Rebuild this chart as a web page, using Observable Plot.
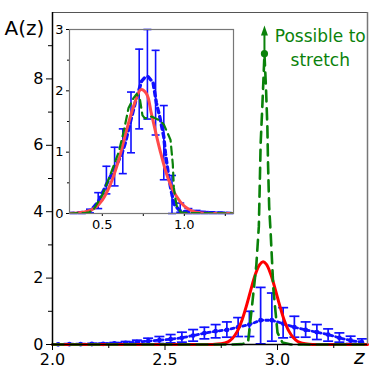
<!DOCTYPE html>
<html><head><meta charset="utf-8">
<script src="https://cdn.jsdelivr.net/npm/d3@7"></script>
<script src="https://cdn.jsdelivr.net/npm/@observablehq/plot@0.6"></script>
<style>
html,body{margin:0;padding:0;background:#fff;}
#chart{position:relative;width:374px;height:374px;}
#inset{position:absolute;left:39px;top:24px;}
</style></head><body>
<div id="chart"><div id="main"></div><div id="inset"></div></div>
<script>
// ---------- main panel data ----------
const mainBinX  = [2.025,2.075,2.125,2.175,2.225,2.275,2.325,2.375,2.425,2.475,2.525,2.575,2.625,2.675,2.725,2.775,2.825,2.875,2.925,2.975,3.025,3.075,3.125,3.175,3.225,3.275,3.325,3.375];
const mainBinY  = [0.005,0.01,0.01,0.015,0.02,0.03,0.05,0.07,0.10,0.13,0.16,0.20,0.27,0.34,0.40,0.44,0.52,0.60,0.73,0.73,0.63,0.52,0.44,0.37,0.30,0.20,0.12,0.07];
const mainBinLo = [0,0,0,0,0,0,0.01,0.01,0.02,0.03,0.05,0.07,0.10,0.17,0.20,0.22,0.24,0.24,0.02,0.10,0.20,0.22,0.22,0.15,0.10,0.07,0.03,0.0];
const mainBinHi = [0.01,0.02,0.02,0.03,0.04,0.06,0.09,0.13,0.19,0.24,0.30,0.37,0.45,0.52,0.60,0.68,0.81,1.00,1.72,1.55,1.11,0.85,0.68,0.60,0.47,0.35,0.25,0.17];

const mainRedX = [2.0,2.6,2.70,2.75,2.78,2.80,2.82,2.84,2.86,2.88,2.90,2.92,2.936,2.95,2.97,2.99,3.01,3.03,3.05,3.07,3.09,3.11,3.14,3.2,3.4];
const mainRedY = [0,0,0.00,0.02,0.08,0.19,0.38,0.69,1.12,1.61,2.08,2.40,2.49,2.42,2.12,1.66,1.17,0.73,0.41,0.21,0.09,0.04,0.01,0,0];

const mainGreenX = [2.0,2.5,2.80,2.84,2.869,2.888,2.906,2.917,2.921,2.925,2.932,2.938,2.942,2.949,2.955,2.958,2.963,2.970,2.982,3.000,3.022,3.06,3.4];
const mainGreenY = [0,0,0,0.01,0.06,1.24,2.40,3.55,4.76,6.03,7.09,8.06,8.76,7.70,6.55,5.42,4.15,3.30,1.64,0.36,0.06,0,0];

const stretchX = [2.942];
const stretchDotY = [8.76];
const stretchArrowY = [9.46];
const noteText = ["Possible to\nstretch"];
const noteX = [3.19];
const noteY = [8.97];

const mainXDomain = [2.0, 3.4];
const mainYDomain = [0, 10];
const mainXTicks = [2.0, 2.5, 3.0];
const mainXMinor = [2.25, 2.75, 3.25];
const mainYTicks = [0, 2, 4, 6, 8];
const mainYMinor = [1, 3, 5, 7, 9];

// ---------- inset data ----------
const insetBinX  = [0.325,0.375,0.425,0.475,0.525,0.575,0.625,0.675,0.725,0.775,0.825,0.875,0.925,0.975,1.025,1.075,1.125,1.175,1.225,1.275];
const insetBinLo = [0,0,0.01,0.08,0.32,0.45,0.65,0.99,1.38,1.54,1.28,0.55,0.0,0.02,0.0,0.0,0,0,0,0];
const insetBinHi = [0.01,0.02,0.07,0.34,0.77,1.08,1.38,1.98,2.68,3.00,2.66,1.76,0.62,0.17,0.08,0.05,0.03,0.02,0.02,0.01];

const insetDotX = [0.30,0.35,0.40,0.43,0.475,0.53,0.56,0.59,0.62,0.64,0.67,0.69,0.705,0.74,0.76,0.78,0.81,0.83,0.85,0.875,0.885,0.905,0.916,0.936,0.97,1.0,1.1,1.2,1.3];
const insetDotY = [0.0,0.01,0.02,0.05,0.19,0.50,0.66,0.81,0.98,1.15,1.48,1.69,1.85,2.16,2.22,2.23,2.13,1.80,1.58,1.25,0.98,0.60,0.43,0.16,0.05,0.03,0.02,0.01,0.0];

const insetRedX = [0.30,0.35,0.40,0.45,0.50,0.55,0.60,0.65,0.70,0.735,0.77,0.80,0.85,0.90,0.95,1.00,1.05,1.10,1.15,1.30];
const insetRedY = [0.00,0.01,0.03,0.08,0.22,0.48,0.87,1.38,1.82,2.02,1.95,1.62,1.05,0.58,0.29,0.12,0.04,0.01,0.00,0.00];

const insetGreenX = [0.30,0.40,0.42,0.45,0.48,0.50,0.55,0.60,0.63,0.66,0.69,0.71,0.73,0.745,0.76,0.80,0.85,0.875,0.90,0.916,0.93,0.936,0.945,0.956,0.98,1.0,1.3];
const insetGreenY = [0,0.01,0.02,0.08,0.21,0.30,0.64,1.00,1.33,1.72,1.88,1.95,1.85,1.60,1.55,1.58,1.52,1.45,1.30,1.20,0.80,0.43,0.25,0.10,0.02,0.01,0];

const insetXDomain = [0.3, 1.3];
const insetYDomain = [0, 3];
const insetXTicks = [0.5, 1.0];
const insetXMinor = [0.75, 1.25];
const insetYTicks = [0, 1, 2, 3];
const insetYMinor = [0.5, 1.5, 2.5];

// ---------- styling ----------
const BLUE = "#1010ff", RED = "#ff0000", RED_INSET = "#ff4a4a", GREEN = "#0a820a";
const FONT = "DejaVu Sans, sans-serif";

const capSymbol = {draw(ctx, size) { const r = Math.sqrt(size / Math.PI); ctx.moveTo(-r, 0); ctx.lineTo(r, 0); }};
const headSymbol = {draw(ctx, size) { const r = Math.sqrt(size / Math.PI); ctx.moveTo(0, -r); ctx.lineTo(0.7 * r, r); ctx.lineTo(-0.7 * r, r); ctx.closePath(); }};

const zip = (xs, ys) => xs.map((x, i) => ({x, y: ys[i]}));
const mainBins = mainBinX.map((x, i) => ({x, y: mainBinY[i], lo: mainBinLo[i], hi: mainBinHi[i]}));
const stretch = stretchX.map((x, i) => ({x, y1: stretchDotY[i], y2: stretchArrowY[i]}));
const note = noteText.map((t, i) => ({t, x: noteX[i], y: noteY[i]}));

const main = Plot.plot({
  width: 374, height: 374,
  marginLeft: 52, marginRight: 7, marginTop: 12, marginBottom: 30,
  style: {fontFamily: FONT, background: "white", overflow: "visible"},
  x: {domain: mainXDomain},
  y: {domain: mainYDomain},
  marks: [
    Plot.line(mainBins, {x: "x", y: "y", stroke: BLUE, strokeWidth: 2.8, strokeDasharray: "3,3"}),
    Plot.ruleX(mainBins, {x: "x", y1: "lo", y2: "hi", stroke: BLUE, strokeWidth: 1.7}),
    Plot.dot(mainBins, {x: "x", y: "lo", symbol: capSymbol, r: 5, stroke: BLUE, strokeWidth: 1.7, fill: "none"}),
    Plot.dot(mainBins, {x: "x", y: "hi", symbol: capSymbol, r: 5, stroke: BLUE, strokeWidth: 1.7, fill: "none"}),
    Plot.dot(mainBins, {x: "x", y: "y", r: 2.4, fill: BLUE, stroke: "none"}),
    Plot.line(zip(mainRedX, mainRedY), {x: "x", y: "y", stroke: RED, strokeWidth: 3, curve: "catmull-rom"}),
    Plot.line(zip(mainGreenX, mainGreenY), {x: "x", y: "y", stroke: GREEN, strokeWidth: 2.6, strokeDasharray: "11,7"}),
    Plot.ruleX(stretch, {x: "x", y1: "y1", y2: "y2", stroke: GREEN, strokeWidth: 2}),
    Plot.dot(stretch, {x: "x", y: "y1", r: 3.6, fill: GREEN, stroke: "none"}),
    Plot.dot(stretch, {x: "x", y: "y2", symbol: headSymbol, r: 5, fill: GREEN, stroke: "none"}),
    Plot.text(note, {x: "x", y: "y", text: "t", fill: GREEN, fontSize: 17, lineHeight: 1.42, lineAnchor: "middle", textAnchor: "middle"}),
    Plot.text(["A(z)"], {frameAnchor: "top-left", dx: -48, dy: 16, fontSize: 20, textAnchor: "start", lineAnchor: "middle", fill: "black"}),
    Plot.text(["z"], {frameAnchor: "bottom-right", dx: -3, dy: 13, fontSize: 20, fontStyle: "italic", textAnchor: "end", lineAnchor: "middle", fill: "black"}),
    Plot.axisX({ticks: mainXTicks, tickFormat: d => d.toFixed(1), tickSize: 6, tickPadding: 3, fontSize: 16, label: null, stroke: "black"}),
    Plot.axisX({ticks: mainXMinor, tickFormat: () => "", tickSize: 4, label: null}),
    Plot.axisY({ticks: mainYTicks, tickFormat: d => String(d), tickSize: 6, tickPadding: 3, fontSize: 16, label: null}),
    Plot.axisY({ticks: mainYMinor, tickFormat: () => "", tickSize: 4, label: null}),
    Plot.ruleY([mainYDomain[1]], {stroke: "#555", strokeWidth: 1.2}),
    Plot.ruleX([mainXDomain[1]], {stroke: "#777", strokeWidth: 1.5}),
    Plot.ruleX([mainXDomain[0]], {stroke: "black", strokeWidth: 1.5}),
    Plot.ruleY([mainYDomain[0]], {stroke: "black", strokeWidth: 1.5})
  ]
});
document.getElementById("main").appendChild(main);

const insetBins = insetBinX.map((x, i) => ({x, lo: insetBinLo[i], hi: insetBinHi[i]}));

const inset = Plot.plot({
  width: 199, height: 211,
  marginLeft: 30, marginRight: 5, marginTop: 5, marginBottom: 22,
  style: {fontFamily: FONT, background: "transparent", overflow: "visible"},
  x: {domain: insetXDomain},
  y: {domain: insetYDomain},
  marks: [
    Plot.frame({fill: "white", stroke: "none"}),
    Plot.line(zip(insetDotX, insetDotY), {x: "x", y: "y", stroke: BLUE, strokeWidth: 3.4, strokeDasharray: "4.5,4", clip: true}),
    Plot.ruleX(insetBins, {x: "x", y1: "lo", y2: "hi", stroke: BLUE, strokeWidth: 1.6}),
    Plot.dot(insetBins, {x: "x", y: "lo", symbol: capSymbol, r: 4, stroke: BLUE, strokeWidth: 1.6, fill: "none"}),
    Plot.dot(insetBins, {x: "x", y: "hi", symbol: capSymbol, r: 4, stroke: BLUE, strokeWidth: 1.6, fill: "none"}),
    Plot.line(zip(insetRedX, insetRedY), {x: "x", y: "y", stroke: RED_INSET, strokeWidth: 3, curve: "catmull-rom", clip: true}),
    Plot.line(zip(insetGreenX, insetGreenY), {x: "x", y: "y", stroke: GREEN, strokeWidth: 2.2, strokeDasharray: "8,5", clip: true}),
    Plot.axisX({ticks: insetXTicks, tickFormat: d => d.toFixed(1), tickSize: 3, tickPadding: 3, fontSize: 13, label: null}),
    Plot.axisX({ticks: insetXMinor, tickFormat: () => "", tickSize: 3, label: null}),
    Plot.axisY({ticks: insetYTicks, tickFormat: d => String(d), tickSize: 3, tickPadding: 3, fontSize: 13, label: null}),
    Plot.axisY({ticks: insetYMinor, tickFormat: () => "", tickSize: 2, label: null}),
    Plot.frame({stroke: "#777", strokeWidth: 1.2})
  ]
});
document.getElementById("inset").appendChild(inset);
</script>
</body></html>
